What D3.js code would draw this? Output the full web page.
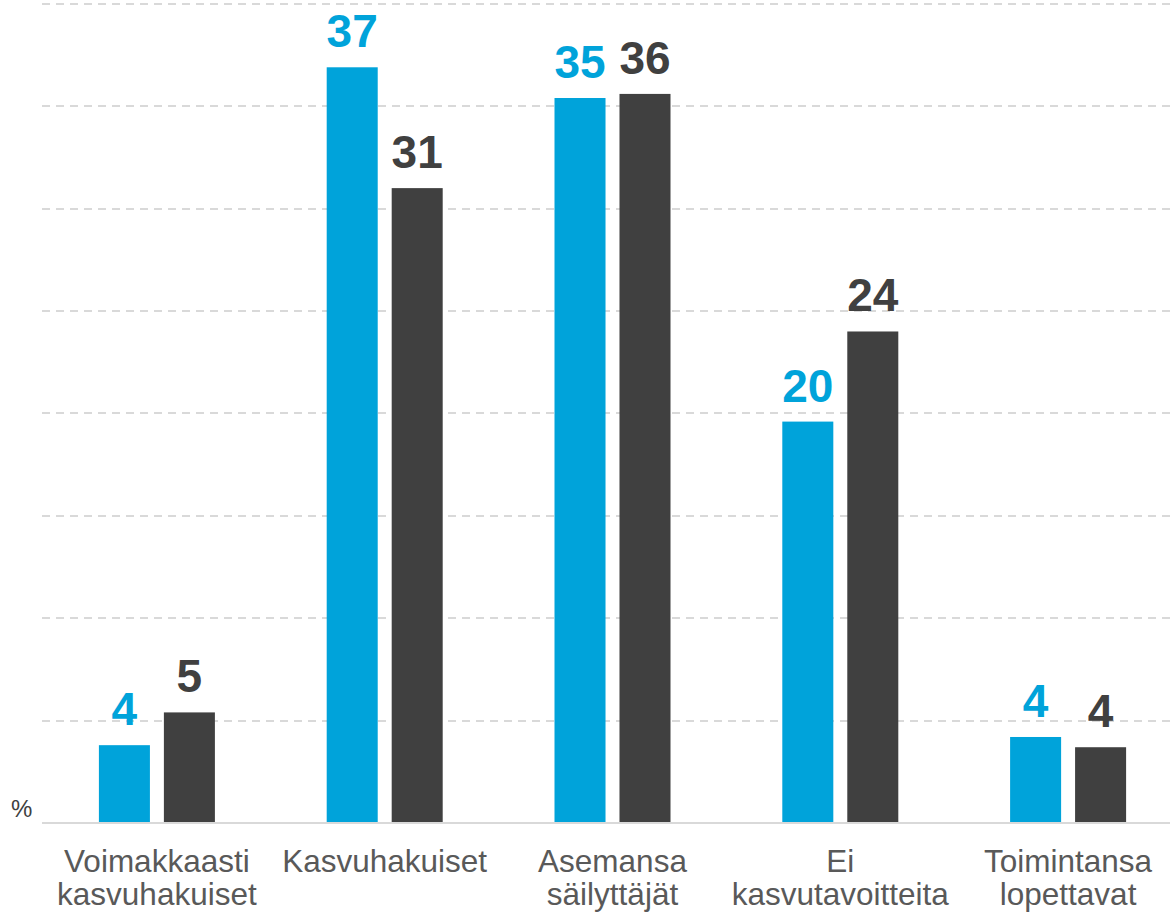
<!DOCTYPE html>
<html>
<head>
<meta charset="utf-8">
<script src="https://cdn.jsdelivr.net/npm/d3@7"></script>
<style>
  body { margin: 0; background: #fff; }
  svg { display: block; font-family: "Liberation Sans", Arial, sans-serif; }
</style>
</head>
<body>
<div id="chart"></div>
<script>
// grouped bars, two series, dashed grid, no y axis labels

var categories = [
  ["Voimakkaasti", "kasvuhakuiset"],
  ["Kasvuhakuiset"],
  ["Asemansa", "säilyttäjät"],
  ["Ei", "kasvutavoitteita"],
  ["Toimintansa", "lopettavat"]
];
var seriesNames = ["a", "b"];
var seriesA = [3.8, 36.9, 35.4, 19.6, 4.2];
var seriesB = [5.4, 31.0, 35.6, 24.0, 3.7];
var gridTicks = [5, 10, 15, 20, 25, 30, 35, 40];

var colors = { a: "#00a3da", b: "#404040" };

var width = 1170,
    height = 916;

var svg = d3.select("#chart").append("svg")
    .attr("width", width)
    .attr("height", height);

var x0 = d3.scaleBand()
    .domain(d3.range(categories.length))
    .range([43, 1182]);

var x1 = d3.scaleBand()
    .domain(seriesNames)
    .range([-58, 58])
    .paddingInner(0.215);

var y = d3.scaleLinear()
    .domain([0, 40])
    .range([823, 3.8]);

// gridlines
svg.append("g")
  .selectAll("line")
  .data(gridTicks)
  .enter().append("line")
    .attr("x1", 42)
    .attr("x2", width)
    .attr("y1", function(d) { return Math.round(y(d)); })
    .attr("y2", function(d) { return Math.round(y(d)); })
    .attr("stroke", "#d9d9d9")
    .attr("stroke-width", 2)
    .attr("stroke-dasharray", "8,6");

// baseline
svg.append("line")
    .attr("x1", 42)
    .attr("x2", width)
    .attr("y1", y(0))
    .attr("y2", y(0))
    .attr("stroke", "#d9d9d9")
    .attr("stroke-width", 2);

var rows = categories.map(function(c, i) {
  return [{ s: "a", v: seriesA[i] }, { s: "b", v: seriesB[i] }];
});

var groups = svg.append("g")
  .selectAll("g")
  .data(rows)
  .enter().append("g")
    .attr("transform", function(d, i) {
      return "translate(" + (x0(i) + x0.bandwidth() / 2) + ",0)";
    });

groups.selectAll("rect")
  .data(function(d) { return d; })
  .enter().append("rect")
    .attr("x", function(d) { return x1(d.s); })
    .attr("width", x1.bandwidth())
    .attr("y", function(d) { return y(d.v); })
    .attr("height", function(d) { return y(0) - y(d.v) - 1; })
    .attr("fill", function(d) { return colors[d.s]; });

groups.selectAll("text.val")
  .data(function(d) { return d; })
  .enter().append("text")
    .attr("class", "val")
    .attr("x", function(d) { return x1(d.s) + x1.bandwidth() / 2; })
    .attr("y", function(d) { return y(d.v) - 20; })
    .attr("text-anchor", "middle")
    .attr("font-size", 46)
    .attr("font-weight", "bold")
    .attr("fill", function(d) { return colors[d.s]; })
    .text(function(d) { return d3.format(".0f")(d.v); });

// category labels, one text per line
var labelLines = [];
categories.forEach(function(c, i) {
  c.forEach(function(t, j) { labelLines.push({ i: i, j: j, t: t }); });
});

svg.append("g")
  .selectAll("text")
  .data(labelLines)
  .enter().append("text")
    .attr("text-anchor", "middle")
    .attr("font-size", 31.5)
    .attr("fill", "#595959")
    .attr("x", function(d) { return x0(d.i) + x0.bandwidth() / 2; })
    .attr("y", function(d) { return 872 + d.j * 33; })
    .text(function(d) { return d.t; });

svg.append("text")
    .attr("x", 11)
    .attr("y", 817)
    .attr("font-size", 24)
    .attr("fill", "#404040")
    .text("%");
</script>
</body>
</html>
